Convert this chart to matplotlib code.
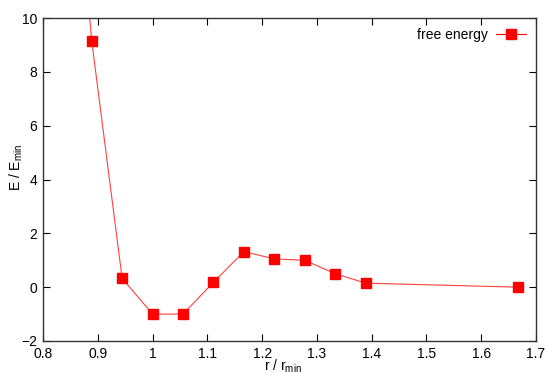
import matplotlib
matplotlib.use('Agg')
import matplotlib.pyplot as plt

plt.rcParams['font.family'] = ['Liberation Sans', 'DejaVu Sans']
plt.rcParams['mathtext.fontset'] = 'custom'
plt.rcParams['mathtext.rm'] = 'Liberation Sans'

# r / r_min and E / E_min
r = [0.8333, 0.8889, 0.9444, 1.0, 1.0556, 1.1111, 1.1667, 1.2222, 1.2778, 1.3333, 1.3889, 1.6667]
energy = [22.0, 9.15, 0.33, -1.0, -1.0, 0.18, 1.32, 1.05, 1.0, 0.5, 0.15, 0.0]

xticks = [0.8, 0.9, 1.0, 1.1, 1.2, 1.3, 1.4, 1.5, 1.6, 1.7]
xticklabels = ['0.8', '0.9', '1', '1.1', '1.2', '1.3', '1.4', '1.5', '1.6', '1.7']
yticks = [-2, 0, 2, 4, 6, 8, 10]

fig = plt.figure(figsize=(5.46, 3.73), dpi=100)
ax = fig.add_axes([0.0788, 0.0858, 0.9029, 0.8659])

ax.plot(r, energy, color='#ff0000', lw=0.8, alpha=0.75)
ax.plot(r, energy, ls='none', marker='s', ms=7, color='#ff0000', mec='#ff0000')
# legend handle
ax.plot([], [], color='#ff0000', lw=0.8, marker='s', ms=7, label='free energy')

ax.set_xlim(0.8, 1.7)
ax.set_ylim(-2, 10)
ax.set_xticks(xticks)
ax.set_xticklabels(xticklabels)
ax.set_yticks(yticks)
ax.tick_params(direction='in', length=5, top=True, right=True, labelsize=10, pad=4)
for s in ax.spines.values():
    s.set_color('#333333')
    s.set_linewidth(1)

ax.set_xlabel(r'r / r$_{\rm min}$', fontsize=10)
ax.xaxis.set_label_coords(0.487, -0.05)
ax.set_ylabel(r'E / E$_{\rm min}$', fontsize=10)
ax.yaxis.set_label_coords(-0.036, 0.536)

ax.legend(loc='upper right', frameon=False, markerfirst=False, fontsize=10,
          handlelength=2.2, borderaxespad=0.3, handletextpad=0.6)

fig.savefig('out.png', dpi=100)
